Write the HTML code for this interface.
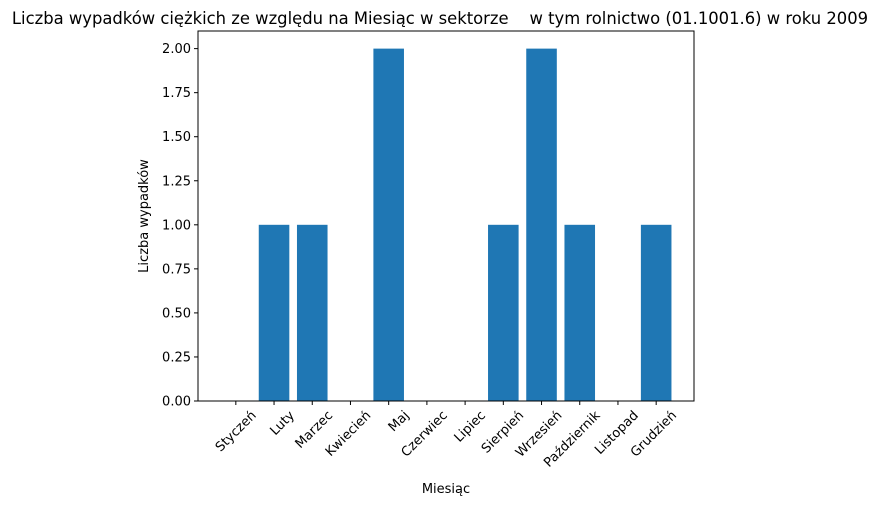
<!DOCTYPE html>
<html><head><meta charset="utf-8"><style>
body{margin:0;background:#fff;font-family:"Liberation Sans","DejaVu Sans",sans-serif}
svg text{font-family:"DejaVu Sans","Liberation Sans",sans-serif;fill:#000}
</style></head><body>
<svg id="chart" width="892" height="506" xmlns="http://www.w3.org/2000/svg">
<text x="440" y="24" font-size="16.4" text-anchor="middle" style="white-space:pre" xml:space="preserve">Liczba wypadków ciężkich ze względu na Miesiąc w sektorze    w tym rolnictwo (01.1001.6) w roku 2009</text>
<g id="plot"></g>
<rect x="198" y="31" width="496" height="370" fill="none" stroke="#000" stroke-width="1"/>
<text x="446" y="493" font-size="13" text-anchor="middle">Miesiąc</text>
<text transform="translate(148,216) rotate(-90)" font-size="13" text-anchor="middle">Liczba wypadków</text>
</svg>
<script>
const categories=["Styczeń","Luty","Marzec","Kwiecień","Maj","Czerwiec","Lipiec","Sierpień","Wrzesień","Październik","Listopad","Grudzień"];
const values=[0,1,1,0,2,0,0,1,2,1,0,1];
const yTicks=[0,0.25,0.5,0.75,1,1.25,1.5,1.75,2];
const NS="http://www.w3.org/2000/svg";
const g=document.getElementById('plot');
const X0=198,X1=694,Y0=401,Y1=31;
const xmin=-0.99,xmax=11.99,ymin=0,ymax=2.1;
const xs=v=>X0+(v-xmin)/(xmax-xmin)*(X1-X0);
const ys=v=>Y0-(v-ymin)/(ymax-ymin)*(Y0-Y1);
function mk(t,a){const e=document.createElementNS(NS,t);for(const k in a)e.setAttribute(k,a[k]);g.appendChild(e);return e;}
values.forEach((v,i)=>{
 const r=mk('rect',{x:xs(i-0.4),y:ys(v),width:xs(i+0.4)-xs(i-0.4),height:ys(0)-ys(v),fill:'#1f77b4'});
 
 
});
categories.forEach((c,i)=>{
 const x=xs(i);
 const t=mk('line',{x1:x,x2:x,y1:Y0,y2:Y0+4,stroke:'#000'});
 
 
 const ax=x+21,ay=Y0+15;
 const l=mk('text',{x:ax,y:ay,'font-size':13,'text-anchor':'end',transform:`rotate(-45 ${ax} ${ay})`});
 l.textContent=c;
 
 
});
yTicks.forEach(v=>{
 const y=ys(v);
 const t=mk('line',{x1:X0-4,x2:X0,y1:y,y2:y,stroke:'#000'});
 
 
 const l=mk('text',{x:X0-7,y:y+4.5,'font-size':13,'text-anchor':'end'});
 l.textContent=v.toFixed(2);
 
 
});
</script>
</body></html>
